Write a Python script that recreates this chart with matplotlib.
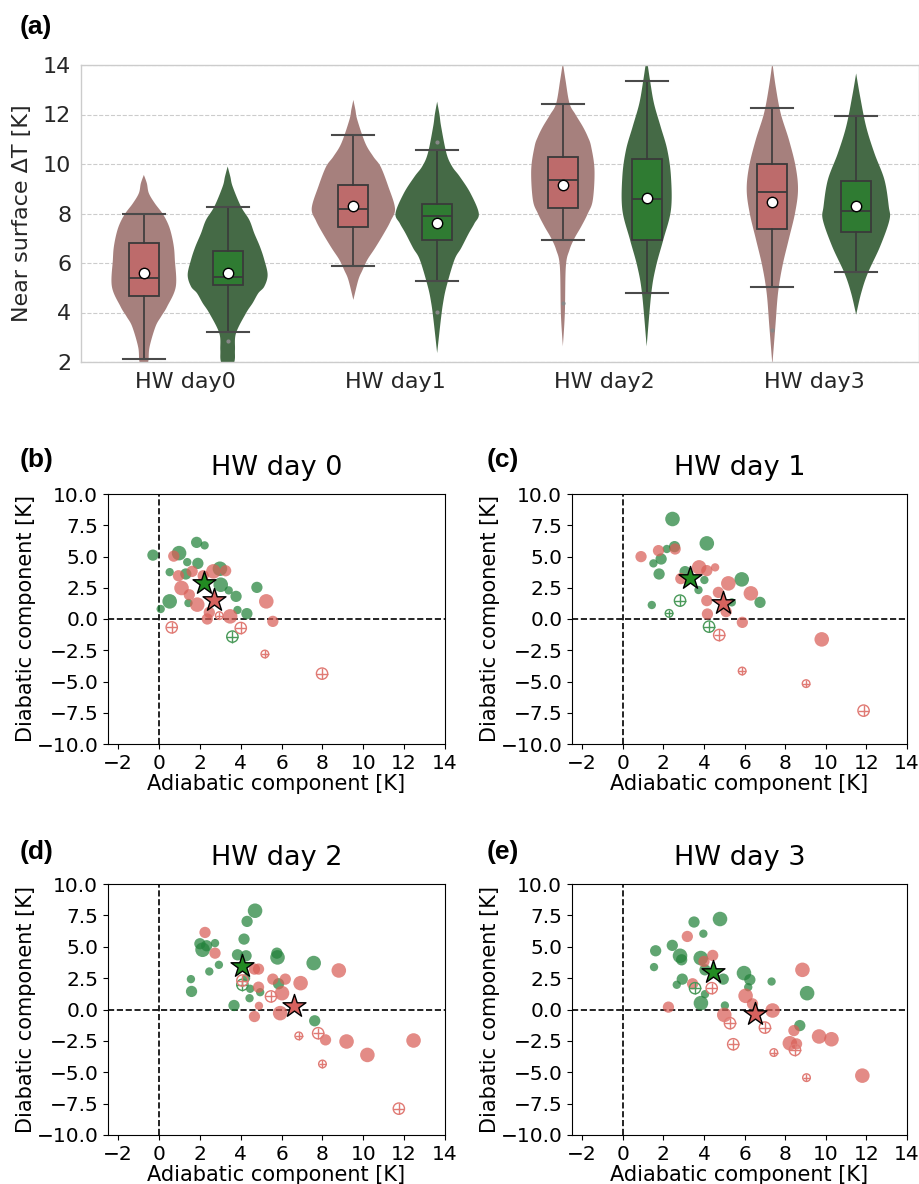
import numpy as np
import matplotlib
matplotlib.use("Agg")
import matplotlib.pyplot as plt

# ---------------- Panel (a) data ----------------
categories = ['HW day0', 'HW day1', 'HW day2', 'HW day3']

red_whislo = [2.13, 5.88, 6.92, 5.05]
red_q1 = [4.65, 7.46, 8.23, 7.36]
red_med = [5.40, 8.20, 9.36, 8.86]
red_q3 = [6.81, 9.17, 10.29, 9.99]
red_whishi = [7.98, 11.19, 12.41, 12.25]
red_mean = [5.61, 8.32, 9.14, 8.45]
red_fliers = [[], [], [4.38], [3.30]]

green_whislo = [3.23, 5.27, 4.79, 5.64]
green_q1 = [5.10, 6.91, 6.92, 7.26]
green_med = [5.43, 7.88, 8.59, 8.10]
green_q3 = [6.48, 8.40, 10.19, 9.30]
green_whishi = [8.27, 10.58, 13.35, 11.94]
green_mean = [5.59, 7.63, 8.64, 8.32]
green_fliers = [[2.83], [10.88, 4.03], [], []]

# violin outlines: levels (K) and relative density (half width)
red_violin_levels = [
    [9.56, 9.22, 8.82, 8.41, 8.0, 7.6, 7.2, 6.66, 6.13, 5.05, 4.24, 3.84, 3.43, 2.6, 2.0, 1.5],
    [12.59, 12.2, 11.78, 10.84, 10.3, 9.89, 9.09, 8.21, 7.7, 7.2, 6.6, 6.13, 5.7, 5.32, 4.51],
    [14.1, 13.39, 12.45, 12.0, 11.51, 11.1, 10.7, 9.76, 8.55, 8.0, 7.47, 7.0, 6.53, 5.86, 3.97, 2.63],
    [14.1, 13.13, 12.05, 10.97, 9.89, 8.95, 8.01, 6.94, 5.86, 4.78, 3.43, 1.9],
]
red_violin_density = [
    [0, 0.09, 0.15, 0.33, 0.56, 0.72, 0.82, 0.90, 0.93, 0.96, 0.70, 0.52, 0.35, 0.17, 0.13, 0],
    [0, 0.06, 0.12, 0.36, 0.60, 0.82, 1.05, 1.25, 1.12, 0.92, 0.65, 0.42, 0.27, 0.15, 0],
    [0, 0.08, 0.20, 0.38, 0.60, 0.75, 0.85, 0.95, 0.90, 0.75, 0.55, 0.35, 0.20, 0.09, 0.06, 0],
    [0, 0.10, 0.25, 0.50, 0.70, 0.77, 0.68, 0.49, 0.30, 0.17, 0.09, 0],
]
green_violin_levels = [
    [9.9, 9.49, 9.09, 8.28, 7.74, 7.2, 6.66, 6.13, 5.52, 5.05, 4.78, 4.38, 3.97, 3.16, 2.49, 2.0, 1.4],
    [12.52, 12.0, 11.51, 10.43, 9.9, 9.49, 8.82, 8.01, 7.6, 7.2, 6.6, 6.13, 5.05, 4.4, 3.7, 2.36],
    [14.3, 13.39, 12.45, 11.51, 10.57, 9.49, 8.15, 6.94, 5.86, 4.78, 2.63],
    [13.66, 12.72, 11.51, 10.43, 9.36, 8.28, 7.74, 6.67, 5.59, 4.78, 3.91],
]
green_violin_density = [
    [0, 0.08, 0.15, 0.40, 0.65, 0.80, 0.97, 1.10, 1.20, 1.10, 0.92, 0.75, 0.55, 0.25, 0.22, 0.20, 0],
    [0, 0.07, 0.12, 0.28, 0.45, 0.68, 1.00, 1.25, 1.12, 0.95, 0.72, 0.52, 0.28, 0.18, 0.11, 0],
    [0, 0.10, 0.22, 0.42, 0.62, 0.73, 0.73, 0.50, 0.28, 0.14, 0],
    [0, 0.12, 0.30, 0.55, 0.85, 0.98, 1.00, 0.72, 0.35, 0.15, 0],
]

# ---------------- Scatter panels data: (adiabatic, diabatic, size class) ----------------
titles = ['HW day 0', 'HW day 1', 'HW day 2', 'HW day 3']
panel_letters = ['(b)', '(c)', '(d)', '(e)']

b_green = [(-0.30, 5.11, 2), (0.98, 5.27, 3), (1.84, 6.13, 2), (2.23, 5.89, 1), (1.38, 4.55, 1),
           (0.52, 3.75, 1), (1.90, 4.45, 2), (1.31, 3.60, 2), (2.98, 4.02, 3), (3.02, 2.74, 3),
           (3.41, 2.29, 1), (3.77, 1.81, 2), (4.79, 2.53, 2), (0.52, 1.41, 3), (0.08, 0.80, 1),
           (1.44, 1.28, 1), (3.84, 0.72, 1), (4.30, 0.43, 2)]
b_red = [(0.72, 5.03, 2), (0.95, 3.46, 2), (1.62, 3.81, 2), (2.66, 3.81, 3), (3.26, 3.86, 2),
         (1.10, 2.48, 3), (1.48, 1.94, 2), (1.87, 1.15, 3), (2.46, 0.53, 2), (2.36, 0.0, 2),
         (3.48, 0.21, 3), (5.25, 1.41, 3), (5.57, -0.19, 2), (2.16, 3.46, 2)]
b_green_hollow = [(3.59, -1.41, 2)]
b_red_hollow = [(0.62, -0.67, 2), (2.95, 0.27, 1), (4.0, -0.72, 2), (5.18, -2.80, 1), (7.98, -4.37, 2)]
b_stars = [(2.21, 2.88), (2.69, 1.54)]

c_green = [(2.45, 8.0, 3), (4.14, 6.05, 3), (2.55, 5.79, 2), (2.17, 5.6, 1), (1.89, 4.8, 2),
           (1.51, 4.45, 1), (1.79, 3.6, 2), (3.07, 3.79, 2), (4.02, 3.12, 1), (3.73, 2.32, 1),
           (5.86, 3.17, 3), (6.76, 1.33, 2), (1.43, 1.12, 1), (5.37, 1.33, 1)]
c_red = [(0.90, 4.99, 2), (1.76, 5.47, 2), (2.58, 5.6, 2), (3.76, 4.13, 3), (4.14, 3.87, 2),
         (4.55, 4.13, 1), (2.86, 3.23, 2), (5.20, 2.85, 3), (6.31, 2.05, 3), (4.71, 2.13, 2),
         (4.14, 1.47, 2), (4.17, 0.4, 2), (5.09, 0.59, 2), (5.89, -0.27, 2), (9.80, -1.63, 3)]
c_green_hollow = [(2.82, 1.47, 2), (2.28, 0.45, 1), (4.25, -0.61, 2)]
c_red_hollow = [(4.75, -1.28, 2), (5.88, -4.16, 1), (9.03, -5.17, 1), (11.86, -7.33, 2)]
c_stars = [(3.32, 3.25), (4.96, 1.31)]

d_green = [(4.70, 7.87, 3), (4.31, 7.02, 2), (4.16, 5.61, 2), (2.74, 5.29, 1), (2.0, 5.24, 2),
           (2.13, 4.76, 3), (2.33, 5.08, 2), (3.84, 4.36, 2), (4.26, 4.28, 2), (5.77, 4.49, 2),
           (5.80, 4.15, 3), (7.57, 3.70, 3), (2.93, 3.56, 1), (2.46, 3.03, 1), (1.56, 2.42, 1),
           (1.59, 1.44, 2), (4.46, 1.65, 1), (4.95, 1.38, 1), (4.43, 0.90, 1), (5.85, 2.05, 2),
           (3.67, 0.32, 2), (7.62, -0.90, 2), (4.26, 2.5, 1)]
d_red = [(2.25, 6.14, 2), (2.74, 4.49, 2), (4.67, 3.22, 2), (4.87, 3.22, 2), (8.80, 3.11, 3),
         (5.57, 2.42, 2), (6.18, 2.42, 2), (6.93, 2.10, 3), (4.87, 1.78, 2), (6.02, 1.30, 3),
         (4.89, 0.29, 1), (4.67, -0.56, 2), (5.93, -0.29, 3), (8.15, -2.42, 2), (9.18, -2.55, 3),
         (10.20, -3.62, 3), (12.46, -2.47, 3)]
d_green_hollow = [(4.08, 1.97, 2)]
d_red_hollow = [(4.08, 2.31, 2), (5.48, 1.04, 2), (7.79, -1.89, 2), (6.84, -2.10, 1),
                (8.0, -4.34, 1), (11.74, -7.90, 2)]
d_stars = [(4.05, 3.48), (6.59, 0.24)]

e_green = [(4.79, 7.21, 3), (3.51, 6.97, 2), (3.97, 6.04, 1), (2.44, 5.11, 2), (1.62, 4.68, 2),
           (2.82, 4.28, 3), (2.90, 3.96, 2), (3.84, 4.10, 3), (1.54, 3.38, 1), (4.05, 3.16, 2),
           (4.95, 2.42, 2), (5.97, 2.90, 3), (6.26, 2.37, 2), (7.33, 2.23, 1), (2.93, 2.42, 2),
           (2.66, 1.97, 1), (4.05, 1.22, 1), (3.85, 0.51, 3), (5.03, 0.32, 1), (9.08, 1.30, 3),
           (6.18, 1.78, 1), (8.72, -1.28, 2)]
e_red = [(3.18, 5.82, 2), (4.43, 4.31, 2), (4.0, 3.83, 2), (3.44, 2.05, 2), (8.85, 3.16, 3),
         (6.05, 1.09, 3), (6.39, 0.45, 2), (7.38, -0.08, 3), (2.25, 0.19, 2), (5.0, -0.43, 3),
         (8.43, -1.68, 2), (8.23, -2.69, 3), (8.56, -2.74, 2), (9.67, -2.15, 3), (10.28, -2.37, 3),
         (11.80, -5.27, 3)]
e_green_hollow = [(3.56, 1.70, 2)]
e_red_hollow = [(4.38, 1.70, 2), (5.28, -1.09, 2), (7.0, -1.44, 2), (5.44, -2.77, 2),
                (7.44, -3.43, 1), (8.48, -3.22, 2), (9.05, -5.43, 1)]
e_stars = [(4.43, 2.98), (6.51, -0.35)]

# ---------------- styling ----------------
RED_V = '#a6807d'
GREEN_V = '#456a46'
RED_BOX = '#bd6b6b'
GREEN_BOX = '#2f7b32'
RED_PT = '#d95f57'
GREEN_PT = '#23823b'
RED_HOLLOW = '#e07a74'
GREEN_HOLLOW = '#4a9a5a'
SIZE_FILLED = {1: 36, 2: 66, 3: 110}
SIZE_HOLLOW = {1: 30, 2: 66, 3: 85}
LABEL_FONT = ['Liberation Sans', 'DejaVu Sans']

fig = plt.figure(figsize=(9.2, 11.84), dpi=100)
W, H = 920.0, 1184.0


def add_ax(x0, y0, x1, y1):
    return fig.add_axes([x0 / W, 1 - y1 / H, (x1 - x0) / W, (y1 - y0) / H])


def smooth_outline(lv, dv, n=14):
    """Catmull-Rom curve through the read outline points (drawing only)."""
    pts = np.column_stack([lv, dv]).astype(float)
    P = np.vstack([pts[0], pts, pts[-1]])
    out = []
    for i in range(1, len(P) - 2):
        p0, p1, p2, p3 = P[i - 1], P[i], P[i + 1], P[i + 2]
        for t in np.linspace(0, 1, n, endpoint=False):
            t2, t3 = t * t, t * t * t
            out.append(0.5 * (2 * p1 + (-p0 + p2) * t + (2 * p0 - 5 * p1 + 4 * p2 - p3) * t2
                              + (-p0 + 3 * p1 - 3 * p2 + p3) * t3))
    out.append(P[-2])
    out = np.array(out)
    out[:, 1] = np.clip(out[:, 1], 0, None)
    return out[:, 0], out[:, 1]


# ---------------- Panel (a) ----------------
ax = add_ax(81, 65, 919, 362)
ax.set_axisbelow(True)
ax.yaxis.grid(True, ls='--', color='#cccccc', lw=0.8)
for s in ax.spines.values():
    s.set_color('#cccccc')
    s.set_linewidth(1.0)

offset = 0.2
dens_scale = 0.159
pos = np.arange(len(categories))

for levels, dens, shift, col in [
    (red_violin_levels, red_violin_density, -offset, RED_V),
    (green_violin_levels, green_violin_density, offset, GREEN_V),
]:
    for i in range(len(categories)):
        yy, ww = smooth_outline(levels[i], dens[i])
        ww = ww * dens_scale
        c = pos[i] + shift
        ax.fill(np.r_[c + ww, (c - ww)[::-1]], np.r_[yy, yy[::-1]], color=col, lw=0, zorder=1)

for wl, q1, md, q3, wh, mn, fl, shift, col in [
    (red_whislo, red_q1, red_med, red_q3, red_whishi, red_mean, red_fliers, -offset, RED_BOX),
    (green_whislo, green_q1, green_med, green_q3, green_whishi, green_mean, green_fliers, offset, GREEN_BOX),
]:
    stats = [dict(whislo=wl[i], q1=q1[i], med=md[i], q3=q3[i], whishi=wh[i],
                  mean=mn[i], fliers=fl[i]) for i in range(len(categories))]
    ax.bxp(stats, positions=pos + shift, widths=0.143, capwidths=0.2,
           patch_artist=True, showmeans=True, manage_ticks=False,
           boxprops=dict(facecolor=col, edgecolor='#3a3a3a', lw=1.3),
           whiskerprops=dict(color='#3a3a3a', lw=1.2),
           capprops=dict(color='#4a4a4a', lw=1.5),
           medianprops=dict(color='#3a3a3a', lw=1.3),
           meanprops=dict(marker='o', markerfacecolor='white', markeredgecolor='black',
                          markersize=7.5, markeredgewidth=1.0),
           flierprops=dict(marker='o', markersize=2, markerfacecolor='#888888',
                           markeredgecolor='#888888'),
           zorder=3)

ax.set_xlim(-0.5, 3.5)
ax.set_ylim(2, 14)
ax.set_yticks([2, 4, 6, 8, 10, 12, 14])
ax.set_xticks(pos)
ax.set_xticklabels(categories)
ax.tick_params(length=0, labelsize=16, labelcolor='#262626', pad=7)
ax.set_ylabel('Near surface ΔT [K]', fontsize=16, color='#262626', labelpad=8)

fig.text(20 / W, 1 - 27 / H, '(a)', fontsize=19, fontweight='bold', family=LABEL_FONT,
         va='center', ha='left')

# ---------------- Scatter panels ----------------
rects = [(108, 494, 445, 744), (572, 494, 907, 744), (108, 884, 445, 1135), (572, 884, 907, 1135)]
letter_pos = [(20, 460), (487, 460), (20, 852), (487, 852)]
panels = [
    (b_green, b_red, b_green_hollow, b_red_hollow, b_stars),
    (c_green, c_red, c_green_hollow, c_red_hollow, c_stars),
    (d_green, d_red, d_green_hollow, d_red_hollow, d_stars),
    (e_green, e_red, e_green_hollow, e_red_hollow, e_stars),
]

fmt_x = matplotlib.ticker.FuncFormatter(lambda v, p: ('\u2212%d' % abs(v)) if v < 0 else '%d' % v)
fmt_y = matplotlib.ticker.FuncFormatter(lambda v, p: ('\u2212%.1f' % abs(v)) if v < 0 else '%.1f' % v)

for k, (rect, data) in enumerate(zip(rects, panels)):
    g, r, gh, rh, st = data
    axs = add_ax(*rect)
    axs.axhline(0, color='black', ls='--', lw=1.2, zorder=1)
    axs.axvline(0, color='black', ls='--', lw=1.2, zorder=1)
    for pts, col in [(g, GREEN_PT), (r, RED_PT)]:
        a = np.array(pts)
        axs.scatter(a[:, 0], a[:, 1], s=[SIZE_FILLED[int(v)] for v in a[:, 2]],
                    color=col, alpha=0.72, linewidths=0, zorder=2)
    for pts, col in [(gh, GREEN_HOLLOW), (rh, RED_HOLLOW)]:
        a = np.array(pts)
        ss = [SIZE_HOLLOW[int(v)] for v in a[:, 2]]
        axs.scatter(a[:, 0], a[:, 1], s=ss, facecolors='none', edgecolors=col,
                    linewidths=1.0, zorder=3)
        axs.scatter(a[:, 0], a[:, 1], s=ss, marker='+', color=col,
                    linewidths=1.0, zorder=3)
    axs.scatter([st[0][0]], [st[0][1]], marker='*', s=300, facecolor='#228b22',
                edgecolor='black', linewidths=1.0, zorder=5)
    axs.scatter([st[1][0]], [st[1][1]], marker='*', s=300, facecolor='#d6625e',
                edgecolor='black', linewidths=1.0, zorder=5)
    axs.set_xlim(-2.5, 14)
    axs.set_ylim(-10, 10)
    axs.set_xticks(np.arange(-2, 15, 2))
    axs.set_yticks(np.arange(-10, 10.1, 2.5))
    axs.xaxis.set_major_formatter(fmt_x)
    axs.yaxis.set_major_formatter(fmt_y)
    axs.tick_params(labelsize=14.5)
    axs.set_xlabel('Adiabatic component [K]', fontsize=15, labelpad=1)
    axs.set_ylabel('Diabatic component [K]', fontsize=15, labelpad=0)
    axs.set_title(titles[k], fontsize=19.5, pad=14)
    lx, ly = letter_pos[k]
    fig.text(lx / W, 1 - ly / H, panel_letters[k], fontsize=19, fontweight='bold',
             family=LABEL_FONT, va='center', ha='left')

fig.savefig('out.png', dpi=100)
